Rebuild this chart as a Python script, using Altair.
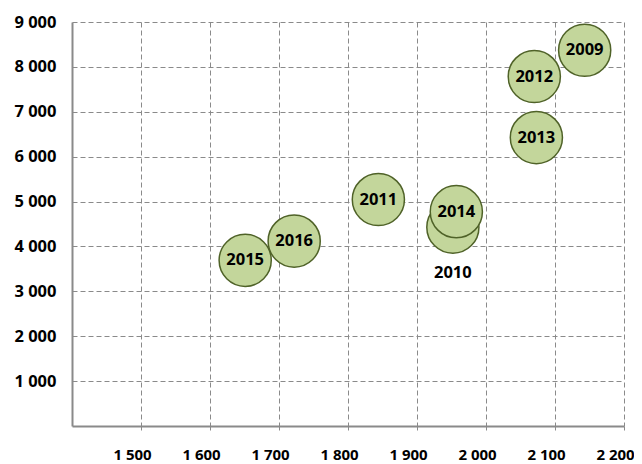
import altair as alt
import pandas as pd

years = ["2009", "2010", "2011", "2012", "2013", "2014", "2015", "2016"]
x_vals = [2143, 1952, 1844, 2070, 2073, 1957, 1651, 1722]
y_vals = [8370, 4430, 5045, 7785, 6425, 4775, 3690, 4120]
bubble = [1, 1, 1, 1, 1, 1, 1, 1]
label_pos = ["center", "below", "center", "center", "center", "center", "center", "center"]

x_ticks = [1500, 1600, 1700, 1800, 1900, 2000, 2100, 2200]
y_ticks = [1000, 2000, 3000, 4000, 5000, 6000, 7000, 8000, 9000]

df = pd.DataFrame({"year": years, "x": x_vals, "y": y_vals, "s": bubble, "pos": label_pos})

FONT = "Open Sans"
FS = 16.5
xscale = alt.Scale(domain=[1400, 2200], nice=False, zero=False)
yscale = alt.Scale(domain=[0, 9000], nice=False)
LBL = "replace(datum.label, ',', ' ')"

xenc = alt.X("x:Q", scale=xscale, axis=alt.Axis(
    values=x_ticks, format=",d", labelExpr=LBL, title=None, grid=True,
    gridColor="#8a8a8a", gridDash=[5, 3], gridWidth=1,
    domainColor="#8a8a8a", domainWidth=2,
    ticks=True, tickColor="#8a8a8a", tickSize=4, tickWidth=1,
    labelFont=FONT, labelFontWeight="bold", labelFontSize=15, labelColor="#000",
    labelPadding=17, labelOffset=-9, labelFlush=False, labelOverlap=False, labelBound=False))
yenc = alt.Y("y:Q", scale=yscale, axis=alt.Axis(
    values=y_ticks, format=",d", labelExpr=LBL, title=None, grid=True,
    gridColor="#8a8a8a", gridDash=[5, 3], gridWidth=1,
    domainColor="#8a8a8a", domainWidth=2, ticks=False,
    labelFont=FONT, labelFontWeight="bold", labelFontSize=FS, labelColor="#000",
    labelPadding=16, labelFlush=False, labelOverlap=False))

base = alt.Chart(df)

circles = base.mark_circle(opacity=1, stroke="#4f6228", strokeWidth=1.5, fill="#c3d69b").encode(
    x=xenc, y=yenc,
    size=alt.Size("s:Q", scale=alt.Scale(domain=[0, 1], range=[0, 2720]), legend=None),
    order=alt.Order("year:O"),
)

txt_center = base.transform_filter(alt.datum.pos == "center").mark_text(
    font=FONT, fontWeight="bold", fontSize=FS, color="#000", baseline="middle", align="center"
).encode(x="x:Q", y="y:Q", text="year:N")

txt_below = base.transform_filter(alt.datum.pos == "below").mark_text(
    font=FONT, fontWeight="bold", fontSize=FS, color="#000", baseline="middle", align="center", dy=46
).encode(x="x:Q", y="y:Q", text="year:N")

chart = alt.layer(circles, txt_center, txt_below).properties(
    width=552, height=404,
    autosize=alt.AutoSizeParams(type="none"),
    padding={"left": 64, "top": 14, "right": 10, "bottom": 40},
).configure_view(stroke=None)

chart.save("out.html", embed_options={"renderer": "svg", "actions": False})
